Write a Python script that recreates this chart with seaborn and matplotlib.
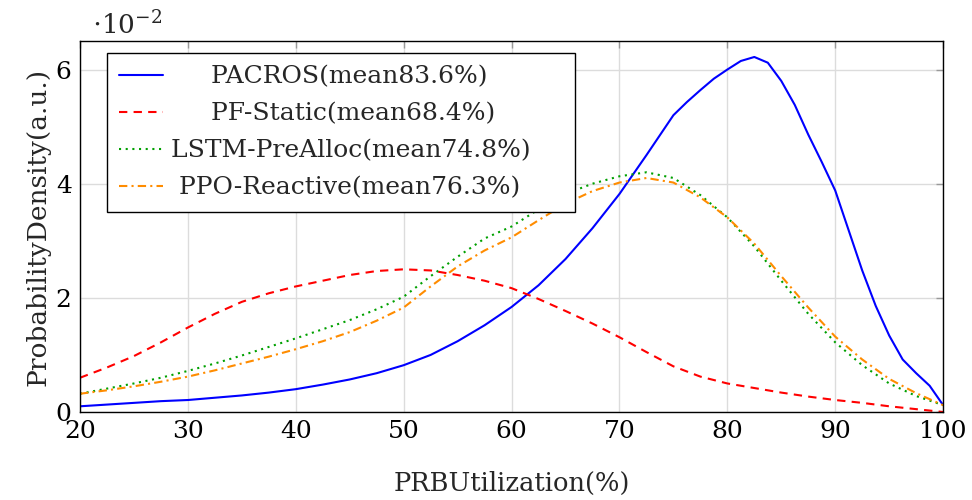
import matplotlib
matplotlib.use('Agg')
import numpy as np
import pandas as pd
import seaborn as sns
import matplotlib.pyplot as plt

# PRB utilisation grid (%) and densities (units of 1e-2)
util_pct = [20, 22.5, 25, 27.5, 30, 32.5, 35, 37.5, 40, 42.5, 45, 47.5,
            50, 52.5, 55, 57.5, 60, 62.5, 65, 67.5, 70, 72.5, 75, 77.5,
            80, 82.5, 85, 87.5, 90, 92.5, 95, 97.5, 100]

# PACROS is read more densely around its peak
pacros_util = [20, 22.5, 25, 27.5, 30, 32.5, 35, 37.5, 40, 42.5, 45, 47.5,
               50, 52.5, 55, 57.5, 60, 62.5, 65, 67.5, 70, 72.5, 75, 76.25,
               77.5, 78.75, 80, 81.25, 82.5, 83.75, 85, 86.25, 87.5, 88.75,
               90, 91.25, 92.5, 93.75, 95, 96.25, 97.5, 98.75, 100]
pacros = [0.10, 0.13, 0.16, 0.19, 0.21, 0.25, 0.29, 0.34, 0.40, 0.48,
          0.57, 0.68, 0.82, 1.00, 1.24, 1.52, 1.84, 2.22, 2.68, 3.22,
          3.82, 4.50, 5.20, 5.43, 5.64, 5.84, 6.00, 6.15, 6.22, 6.12,
          5.80, 5.38, 4.86, 4.38, 3.88, 3.18, 2.48, 1.86, 1.34, 0.92,
          0.68, 0.46, 0.12]
pf_static = [0.60, 0.78, 0.98, 1.22, 1.48, 1.72, 1.93, 2.08, 2.20, 2.30,
             2.40, 2.47, 2.50, 2.48, 2.40, 2.30, 2.17, 1.98, 1.77, 1.55,
             1.31, 1.05, 0.80, 0.62, 0.50, 0.42, 0.34, 0.27, 0.21, 0.16,
             0.10, 0.05, 0.00]
lstm_prealloc = [0.32, 0.41, 0.50, 0.60, 0.72, 0.85, 0.99, 1.14, 1.29,
                 1.45, 1.61, 1.80, 2.02, 2.38, 2.72, 3.04, 3.25, 3.55,
                 3.82, 4.00, 4.13, 4.20, 4.10, 3.80, 3.41, 2.90, 2.30,
                 1.72, 1.22, 0.82, 0.50, 0.28, 0.12]
ppo_reactive = [0.32, 0.38, 0.45, 0.53, 0.62, 0.73, 0.85, 0.97, 1.10,
                1.24, 1.40, 1.60, 1.83, 2.20, 2.55, 2.83, 3.06, 3.36,
                3.65, 3.87, 4.02, 4.10, 4.02, 3.76, 3.41, 2.95, 2.38,
                1.83, 1.32, 0.92, 0.58, 0.33, 0.12]

method_names = ['PACROS', 'PF-Static', 'LSTM-PreAlloc', 'PPO-Reactive']
mean_util = [83.6, 68.4, 74.8, 76.3]
series_x = [pacros_util, util_pct, util_pct, util_pct]
series_y = [pacros, pf_static, lstm_prealloc, ppo_reactive]

line_colors = ['#0000ff', '#ff0000', '#00a000', '#ff8c00']
line_dashes = ['', (4, 3), (1, 2.2), (4, 2, 1, 2)]

labels = ['{}(mean{}%)'.format(name, m)
          for name, m in zip(method_names, mean_util)]

frames = []
for lab, xs, ys in zip(labels, series_x, series_y):
    frames.append(pd.DataFrame({'util': xs, 'density': ys, 'method': lab}))
plot_df = pd.concat(frames, ignore_index=True)

sns.set_style('white')
plt.rcParams['font.family'] = ['DejaVu Serif']
plt.rcParams['mathtext.fontset'] = 'dejavuserif'

fig = plt.figure(figsize=(9.72, 5.0), dpi=100)
ax = fig.add_axes([0.0823, 0.176, 0.888, 0.742])

sns.lineplot(data=plot_df, x='util', y='density', hue='method',
             style='method', hue_order=labels, style_order=labels,
             palette=dict(zip(labels, line_colors)),
             dashes=dict(zip(labels, line_dashes)),
             linewidth=1.5, estimator=None, sort=False, ax=ax)

ax.set_xlim(20, 100)
ax.set_ylim(0, 6.5)
ax.set_xticks(np.arange(20, 101, 10))
ax.set_yticks([0, 2, 4, 6])
ax.grid(True, color='#dcdcdc', linewidth=1.0, zorder=0)
ax.set_axisbelow(True)

ax.tick_params(direction='in', length=5, width=1, color='#999999',
               labelcolor='black', labelsize=18, top=True, right=True,
               pad=6)
for sp in ax.spines.values():
    sp.set_color('black')
    sp.set_linewidth(1.0)

ax.set_xlabel('PRBUtilization(%)', fontsize=18.5, labelpad=20)
ax.set_ylabel('ProbabilityDensity(a.u.)', fontsize=19, labelpad=4)
ax.text(0.014, 1.004, r'$\cdot 10^{-2}$', transform=ax.transAxes,
        ha='left', va='bottom', fontsize=19)

handles, _ = ax.get_legend_handles_labels()
leg = ax.legend(handles[:4], labels, loc='upper left',
                bbox_to_anchor=(0.031, 0.968), borderaxespad=0,
                fontsize=18, frameon=True, fancybox=False,
                edgecolor='black', framealpha=1, handlelength=1.75,
                handletextpad=0.3, labelspacing=0.56, borderpad=0.5)
leg.get_frame().set_linewidth(1.0)

# centre legend texts like the original by padding with spaces
fig.canvas.draw()
rend = fig.canvas.get_renderer()
texts = leg.get_texts()
widths = [t.get_window_extent(rend).width for t in texts]
t0 = texts[0]
base = t0.get_text()
w0 = widths[0]
t0.set_text(' ' * 10 + base)
space_w = (t0.get_window_extent(rend).width - w0) / 10.
t0.set_text(base)
max_w = max(widths)
extra_w = 28.
for t, w in zip(texts, widths):
    n_sp = int(round((max_w - w) / 2. / space_w))
    n_tail = int(round((max_w + extra_w - w) / space_w)) - n_sp
    t.set_text(' ' * n_sp + t.get_text() + ' ' * n_tail)

fig.savefig('out.png', dpi=100)
plt.close(fig)
